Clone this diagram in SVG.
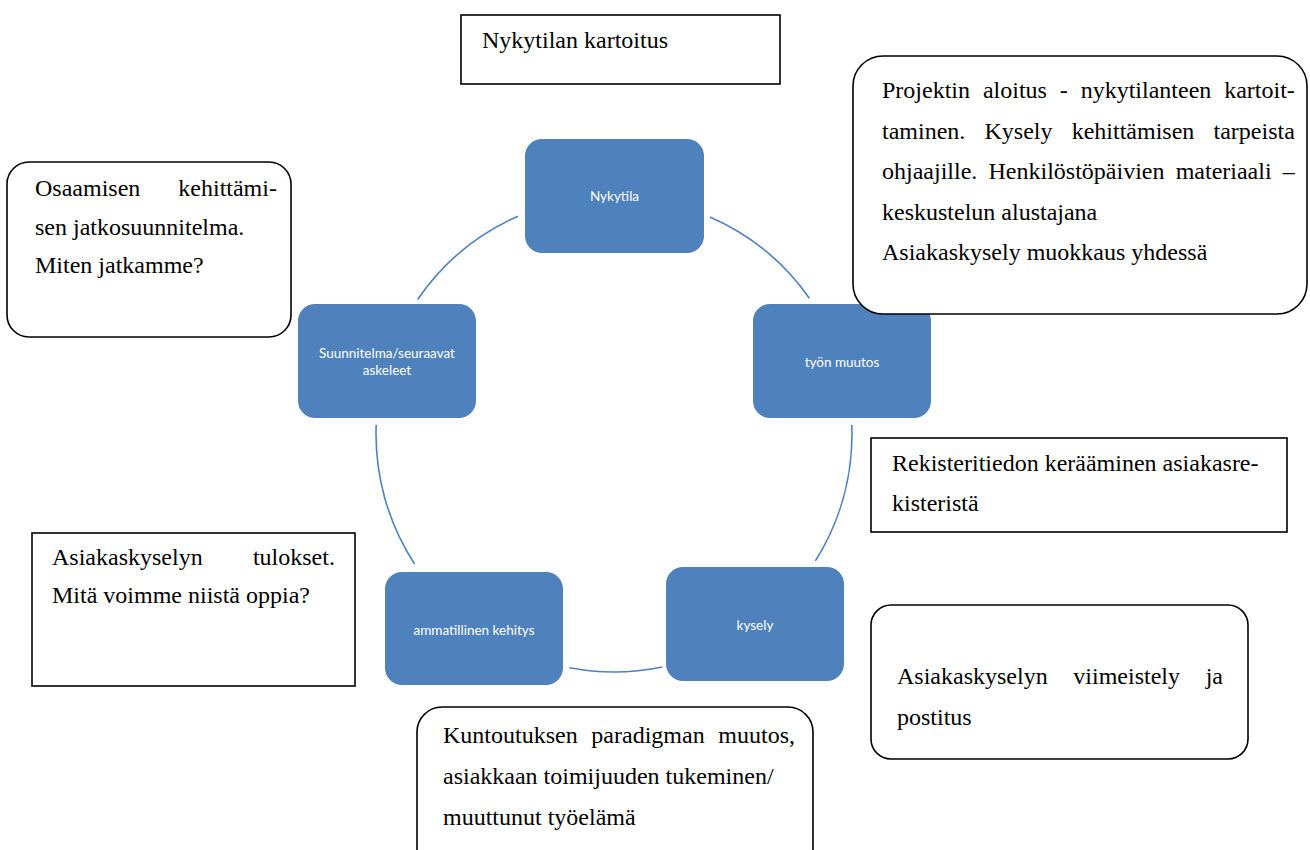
<svg xmlns="http://www.w3.org/2000/svg" width="1310" height="850" viewBox="0 0 1310 850">
<style>
.node rect{fill:#4F81BD;stroke:none}
.node text{font-family:Lato,"Open Sans",sans-serif;font-size:13.5px;fill:#ffffff;text-anchor:middle}
.conn path{fill:none;stroke:#4F81BD;stroke-width:1.6}
.box rect{fill:#ffffff;stroke:#000000;stroke-width:1.6}
.box text{font-family:"Liberation Serif","Times New Roman",serif;font-size:24px;fill:#000000}
</style>
<rect x="0" y="0" width="1310" height="850" fill="#ffffff"/>
<g id="connectors" class="conn">
<path d="M709.9,217 A238,238 0 0 1 809.4,298.2"/>
<path d="M851.8,424.9 A238,238 0 0 1 815.4,560.9"/>
<path d="M662.3,667 A238,238 0 0 1 569.4,667.8"/>
<path d="M414.6,564 A238,238 0 0 1 376.2,424.9"/>
<path d="M417.6,299.5 A238,238 0 0 1 518,216.2"/>
</g>
<g id="node-nykytila" class="node"><rect x="525" y="139" width="179" height="114" rx="17"/><text x="614.5" y="201">Nykytila</text></g>
<g id="node-tyon-muutos" class="node"><rect x="753" y="304" width="178" height="114" rx="17"/><text x="842" y="367">työn muutos</text></g>
<g id="node-kysely" class="node"><rect x="666" y="567" width="178" height="114" rx="17"/><text x="755" y="630">kysely</text></g>
<g id="node-ammatillinen" class="node"><rect x="385" y="572" width="178" height="113" rx="17"/><text x="474" y="635">ammatillinen kehitys</text></g>
<g id="node-suunnitelma" class="node"><rect x="298" y="304" width="178" height="114" rx="17"/><text x="387" y="358">Suunnitelma/seuraavat</text><text x="387" y="375">askeleet</text></g>
<g id="box-title" class="box"><rect x="461" y="15" width="319" height="69"/><text x="482" y="48">Nykytilan kartoitus</text></g>
<g id="box-projektin" class="box"><rect x="853" y="56" width="454" height="258" rx="30"/>
<text x="882" y="98" style="word-spacing:6.9px">Projektin aloitus - nykytilanteen kartoit-</text>
<text x="882" y="138.5" style="word-spacing:13.2px">taminen. Kysely kehittämisen tarpeista</text>
<text x="882" y="179" style="word-spacing:5.2px">ohjaajille. Henkilöstöpäivien materiaali –</text>
<text x="882" y="219.5">keskustelun alustajana</text>
<text x="882" y="260">Asiakaskysely muokkaus yhdessä</text></g>
<g id="box-osaamisen" class="box"><rect x="7" y="162" width="284" height="175" rx="22"/>
<text x="35" y="196" style="word-spacing:32px">Osaamisen kehittämi-</text>
<text x="35" y="234.5">sen jatkosuunnitelma.</text>
<text x="35" y="273">Miten jatkamme?</text></g>
<g id="box-rekisteri" class="box"><rect x="871" y="438" width="416" height="94"/>
<text x="892" y="471">Rekisteritiedon kerääminen asiakasre-</text>
<text x="892" y="511">kisteristä</text></g>
<g id="box-viimeistely" class="box"><rect x="871" y="605" width="377" height="154" rx="20"/>
<text x="897" y="684" style="word-spacing:19.7px">Asiakaskyselyn viimeistely ja</text>
<text x="897" y="725">postitus</text></g>
<g id="box-tulokset" class="box"><rect x="32" y="533" width="323" height="153"/>
<text x="52" y="565" style="word-spacing:44.3px">Asiakaskyselyn tulokset.</text>
<text x="52" y="603">Mitä voimme niistä oppia?</text></g>
<g id="box-kuntoutuksen" class="box"><rect x="417" y="707" width="396" height="170" rx="25"/>
<text x="443" y="743" style="word-spacing:7.7px">Kuntoutuksen paradigman muutos,</text>
<text x="443" y="784">asiakkaan toimijuuden tukeminen/</text>
<text x="443" y="825">muuttunut työelämä</text></g>
</svg>
